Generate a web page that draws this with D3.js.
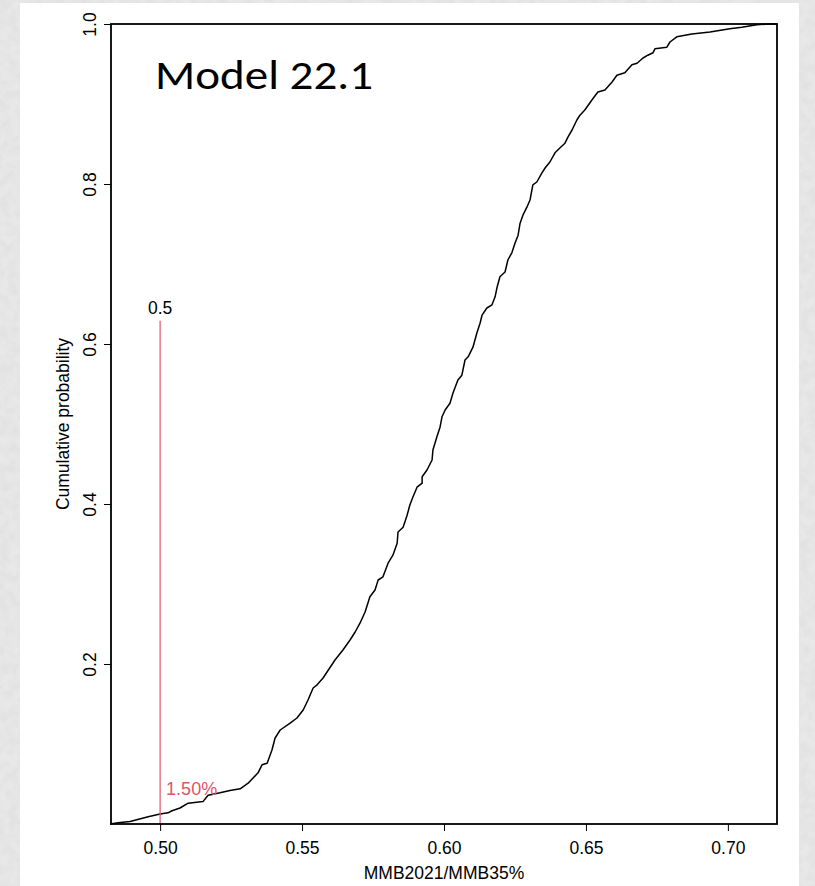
<!DOCTYPE html>
<html>
<head>
<meta charset="utf-8">
<script src="https://cdn.jsdelivr.net/npm/d3@7/dist/d3.min.js"></script>
<style>
  html, body { margin: 0; padding: 0; background: #ffffff; }
  svg { display: block; }
</style>
</head>
<body>
<svg id="chart" width="815" height="886"></svg>
<script>
// Empirical cumulative distribution of MMB2021/MMB35%
const ratio = [
  0.4824, 0.4852, 0.4894, 0.4958, 0.5000, 0.5028, 0.5042, 0.5070, 0.5099, 0.5151,
  0.5169, 0.5211, 0.5246, 0.5282, 0.5310, 0.5345, 0.5359, 0.5377, 0.5394, 0.5405,
  0.5423, 0.5458, 0.5482, 0.5504, 0.5521, 0.5539, 0.5553, 0.5574, 0.5616, 0.5644,
  0.5669, 0.5687, 0.5704, 0.5722, 0.5739, 0.5757, 0.5768, 0.5785, 0.5803, 0.5820,
  0.5835, 0.5838, 0.5856, 0.5870, 0.5880, 0.5891, 0.5905, 0.5923, 0.5923, 0.5940,
  0.5958, 0.5961, 0.5975, 0.5986, 0.5993, 0.6004, 0.6021, 0.6032, 0.6049, 0.6063,
  0.6074, 0.6085, 0.6102, 0.6116, 0.6127, 0.6134, 0.6151, 0.6169, 0.6180, 0.6187,
  0.6197, 0.6215, 0.6225, 0.6239, 0.6250, 0.6261, 0.6268, 0.6278, 0.6292, 0.6303,
  0.6313, 0.6327, 0.6345, 0.6356, 0.6373, 0.6391, 0.6408, 0.6426, 0.6437, 0.6451,
  0.6468, 0.6479, 0.6496, 0.6521, 0.6542, 0.6567, 0.6592, 0.6609, 0.6637, 0.6662,
  0.6680, 0.6701, 0.6718, 0.6736, 0.6743, 0.6785, 0.6796, 0.6820, 0.6873, 0.6937,
  0.7007, 0.7049, 0.7102, 0.7148, 0.7173
];
const cumProb = [
  0.0000, 0.0016, 0.0030, 0.0090, 0.0125, 0.0140, 0.0166, 0.0200, 0.0260, 0.0280,
  0.0360, 0.0390, 0.0420, 0.0440, 0.0510, 0.0640, 0.0740, 0.0760, 0.0925, 0.1075,
  0.1175, 0.1260, 0.1325, 0.1425, 0.1550, 0.1700, 0.1740, 0.1825, 0.2050, 0.2175,
  0.2300, 0.2400, 0.2510, 0.2650, 0.2840, 0.2925, 0.3050, 0.3090, 0.3260, 0.3360,
  0.3510, 0.3650, 0.3710, 0.3860, 0.3990, 0.4090, 0.4210, 0.4260, 0.4340, 0.4425,
  0.4550, 0.4675, 0.4840, 0.4960, 0.5090, 0.5175, 0.5260, 0.5390, 0.5550, 0.5610,
  0.5800, 0.5840, 0.5960, 0.6140, 0.6260, 0.6360, 0.6450, 0.6490, 0.6590, 0.6710,
  0.6840, 0.6900, 0.7050, 0.7140, 0.7260, 0.7360, 0.7510, 0.7610, 0.7710, 0.7800,
  0.7990, 0.8025, 0.8140, 0.8200, 0.8275, 0.8390, 0.8450, 0.8510, 0.8590, 0.8675,
  0.8800, 0.8860, 0.8925, 0.9050, 0.9150, 0.9175, 0.9275, 0.9360, 0.9390, 0.9490,
  0.9510, 0.9575, 0.9610, 0.9640, 0.9690, 0.9710, 0.9775, 0.9840, 0.9875, 0.9900,
  0.9940, 0.9960, 0.9990, 1.0000, 1.0000
];

const xTicks = [0.50, 0.55, 0.60, 0.65, 0.70];
const yTicks = [0.2, 0.4, 0.6, 0.8, 1.0];
const xDomain = [0.4827, 0.7173];
const yDomain = [0, 1];

// Reference ratio and the probability of falling below it
const refRatio = 0.5;
const refLineTop = 0.629;
const refLabel = "0.5";
const probLabel = "1.50%";
const refProb = 0.015;

const titleText = "Model 22.1";
const xTitle = "MMB2021/MMB35%";
const yTitle = "Cumulative probability";

const svg = d3.select("#chart");
const W = 815, H = 886;
const m = { left: 111, right: 777, top: 24, bottom: 824 };
const refColor = "#DF536B";
const axisFont = "'Liberation Sans', Arial, sans-serif";
const fs = 17.5;

// Mottled grey surround
const defs = svg.append("defs");
const f = defs.append("filter").attr("id", "grain")
  .attr("x", 0).attr("y", 0).attr("width", "100%").attr("height", "100%");
f.append("feTurbulence").attr("type", "fractalNoise")
  .attr("baseFrequency", 0.11).attr("numOctaves", 3).attr("seed", 4).attr("result", "n");
f.append("feColorMatrix").attr("in", "n").attr("type", "matrix")
  .attr("values", "0 0 0 0 0.76  0 0 0 0 0.76  0 0 0 0 0.76  0 0 0 -2.4 1.65");
svg.append("rect").attr("width", W).attr("height", H).attr("fill", "#e8e8e8");
svg.append("rect").attr("width", W).attr("height", H).attr("fill", "#fff")
  .attr("filter", "url(#grain)");
svg.append("rect").attr("x", 20).attr("y", 3).attr("width", 779).attr("height", H - 3)
  .attr("fill", "#ffffff");

const x = d3.scaleLinear().domain(xDomain).range([m.left, m.right]);
const y = d3.scaleLinear().domain(yDomain).range([m.bottom, m.top]);

// Axes
const xAxis = svg.append("g").attr("transform", `translate(0,${m.bottom})`)
  .call(d3.axisBottom(x).tickValues(xTicks).tickFormat(d3.format(".2f"))
    .tickSize(7).tickSizeOuter(0).tickPadding(11));
const yAxis = svg.append("g").attr("transform", `translate(${m.left},0)`)
  .call(d3.axisLeft(y).tickValues(yTicks).tickFormat(d3.format(".1f"))
    .tickSize(7).tickSizeOuter(0));
[xAxis, yAxis].forEach(g => {
  g.select(".domain").remove();
  g.selectAll(".tick line").attr("stroke", "#000").attr("stroke-width", 1);
  g.selectAll(".tick text").attr("fill", "#000")
    .attr("font-family", axisFont).attr("font-size", fs);
});
xAxis.selectAll(".tick text").attr("dy", "0.71em");
yAxis.selectAll(".tick text")
  .attr("text-anchor", "middle").attr("dy", null).attr("x", null).attr("y", 0)
  .attr("transform", "translate(-15,0) rotate(-90)");

// Axis titles
svg.append("text").attr("x", (m.left + m.right) / 2).attr("y", 879)
  .attr("text-anchor", "middle").attr("font-family", axisFont).attr("font-size", fs)
  .text(xTitle);
svg.append("text")
  .attr("transform", `translate(69,${(m.top + m.bottom) / 2}) rotate(-90)`)
  .attr("text-anchor", "middle").attr("font-family", axisFont).attr("font-size", fs)
  .text(yTitle);

// ECDF curve
const pts = ratio.map((r, i) => [r, cumProb[i]]);
svg.append("path").datum(pts)
  .attr("fill", "none").attr("stroke", "#000").attr("stroke-width", 1.5)
  .attr("stroke-linejoin", "round")
  .attr("d", d3.line().x(d => x(d[0])).y(d => y(d[1])));

// Reference line at ratio 0.5
svg.append("line")
  .attr("x1", x(refRatio)).attr("x2", x(refRatio))
  .attr("y1", y(0)).attr("y2", y(refLineTop))
  .attr("stroke", refColor).attr("stroke-width", 1.2);
svg.append("text").attr("x", x(refRatio)).attr("y", y(refLineTop) - 7)
  .attr("text-anchor", "middle").attr("font-family", axisFont).attr("font-size", fs)
  .text(refLabel);
svg.append("text").attr("x", x(refRatio) + 6).attr("y", y(refProb) - 17)
  .attr("font-family", axisFont).attr("font-size", 18).attr("fill", refColor)
  .text(probLabel);

// Plot frame
svg.append("rect")
  .attr("x", m.left).attr("y", m.top)
  .attr("width", m.right - m.left).attr("height", m.bottom - m.top)
  .attr("fill", "none").attr("stroke", "#000").attr("stroke-width", 1.8);

// Panel title
svg.append("text").attr("x", 155).attr("y", 89)
  .attr("font-family", "Carlito, 'Open Sans', sans-serif").attr("font-size", 42)
  .attr("textLength", 218).attr("lengthAdjust", "spacingAndGlyphs")
  .attr("fill", "#000").text(titleText);
</script>
</body>
</html>
